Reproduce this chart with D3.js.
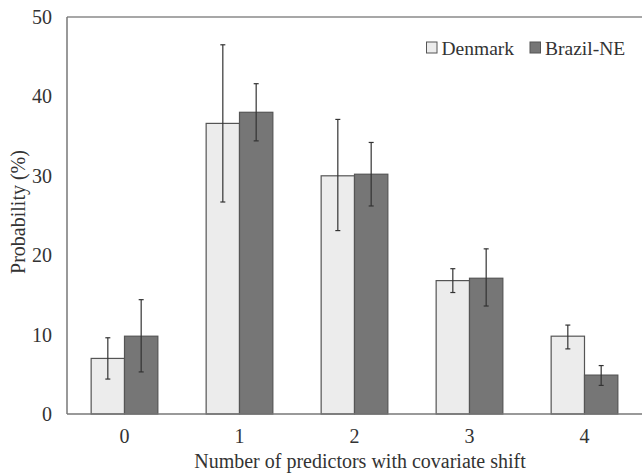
<!DOCTYPE html>
<html><head><meta charset="utf-8">
<script src="https://cdn.jsdelivr.net/npm/d3@7"></script>
</head><body style="margin:0">
<script>
const categories = ["0","1","2","3","4"];
const seriesNames = ["Denmark","Brazil-NE"];
const denmark = [7.0, 36.6, 30.0, 16.8, 9.8];
const denmarkLo = [4.4, 26.7, 23.1, 15.3, 8.2];
const denmarkHi = [9.6, 46.5, 37.1, 18.3, 11.2];
const brazil = [9.8, 38.0, 30.2, 17.1, 4.9];
const brazilLo = [5.3, 34.4, 26.2, 13.6, 3.6];
const brazilHi = [14.4, 41.6, 34.2, 20.8, 6.1];
const yTicks = [0,10,20,30,40,50];

const W=642,H=473;
const m={l:67,r:0,t:17,b:59};
const svg=d3.select("body").append("svg").attr("width",W).attr("height",H)
  .style("display","block").style("font-family","\"Liberation Serif\"").style("background","#fff");
const x=d3.scaleBand().domain(categories).range([m.l,W-m.r]).paddingInner(0.42).paddingOuter(0.21);
const xs=d3.scaleBand().domain(seriesNames).range([0,x.bandwidth()]);
const y=d3.scaleLinear().domain([0,50]).range([H-m.b,m.t]);

const data=categories.map((c,i)=>({c,vals:[
 {s:"Denmark",v:denmark[i],lo:denmarkLo[i],hi:denmarkHi[i]},
 {s:"Brazil-NE",v:brazil[i],lo:brazilLo[i],hi:brazilHi[i]}]}));
const fill={"Denmark":"#ececec","Brazil-NE":"#767676"};

svg.append("line").attr("x1",m.l).attr("x2",W).attr("y1",y(50)).attr("y2",y(50)).attr("stroke","#8a8a8a").attr("stroke-width",1.5);

const g=svg.selectAll("g.grp").data(data).enter().append("g").attr("transform",d=>`translate(${x(d.c)},0)`);
g.selectAll("rect").data(d=>d.vals).enter().append("rect")
 .attr("x",d=>xs(d.s)).attr("width",xs.bandwidth())
 .attr("y",d=>y(d.v)).attr("height",d=>y(0)-y(d.v))
 .attr("fill",d=>fill[d.s]).attr("stroke","#555").attr("stroke-width",1.2);
const eb=g.selectAll("g.eb").data(d=>d.vals).enter().append("g").attr("stroke","#333").attr("stroke-width",1.2);
eb.append("line").attr("x1",d=>xs(d.s)+xs.bandwidth()/2).attr("x2",d=>xs(d.s)+xs.bandwidth()/2).attr("y1",d=>y(d.lo)).attr("y2",d=>y(d.hi));
eb.append("line").attr("x1",d=>xs(d.s)+xs.bandwidth()/2-2.5).attr("x2",d=>xs(d.s)+xs.bandwidth()/2+2.5).attr("y1",d=>y(d.lo)).attr("y2",d=>y(d.lo));
eb.append("line").attr("x1",d=>xs(d.s)+xs.bandwidth()/2-2.5).attr("x2",d=>xs(d.s)+xs.bandwidth()/2+2.5).attr("y1",d=>y(d.hi)).attr("y2",d=>y(d.hi));

const yAx=svg.append("g").attr("transform",`translate(${m.l},0)`).call(d3.axisLeft(y).tickValues(yTicks).tickSize(0).tickPadding(15));
yAx.attr("font-family",null).attr("font-size",null);
yAx.select(".domain").attr("stroke","#777").attr("stroke-width",1.5).attr("d",`M0,${y(0)}V${y(50)}`);
yAx.selectAll("text").style("font-size","20px").attr("fill","#333");
const xAx=svg.append("g").attr("transform",`translate(0,${y(0)})`).call(d3.axisBottom(x).tickSize(0).tickPadding(15));
xAx.attr("font-family",null).attr("font-size",null);
xAx.select(".domain").attr("stroke","#777").attr("stroke-width",1.5).attr("d",`M${m.l},0H${W}`);
xAx.selectAll("text").style("font-size","20px").attr("fill","#333");

svg.append("text").attr("x",360).attr("y",468).attr("text-anchor","middle")
 .style("font-size","20px").attr("fill","#333").text("Number of predictors with covariate shift");
svg.append("text").attr("transform",`translate(25,212) rotate(-90)`).attr("text-anchor","middle")
 .style("font-size","20px").attr("fill","#333").text("Probability (%)");

const lg=svg.append("g");
const lx=[426.5,530];
seriesNames.forEach((s,i)=>{
 lg.append("rect").attr("x",lx[i]).attr("y",42).attr("width",10.5).attr("height",11).attr("fill",fill[s]).attr("stroke","#555").attr("stroke-width",1);
 lg.append("text").attr("x",lx[i]+15).attr("y",55).style("font-size","19.5px").attr("fill","#333").text(s);
});
</script>
</body></html>
